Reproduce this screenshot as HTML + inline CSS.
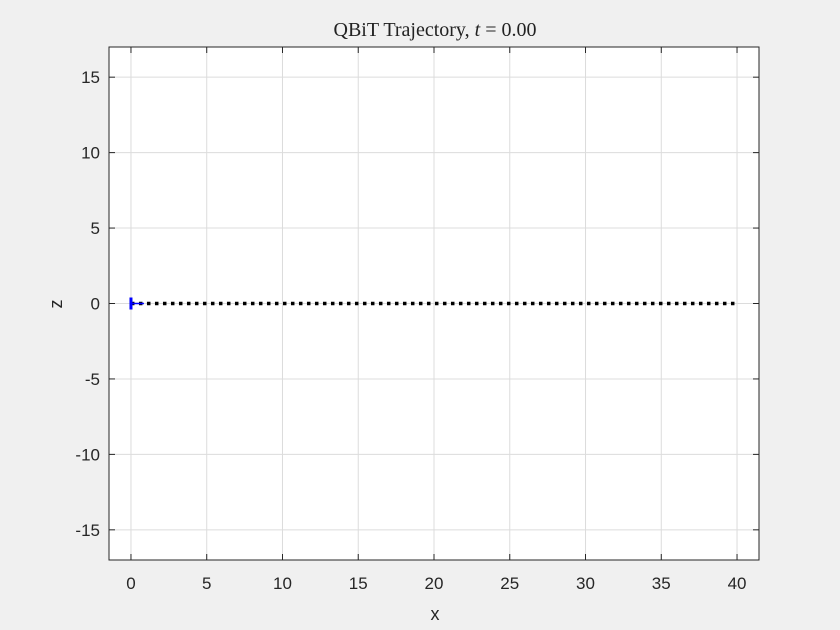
<!DOCTYPE html>
<html><head><meta charset="utf-8"><style>
body{margin:0;background:#f0f0f0;}
svg{display:block;font-family:"Liberation Sans",sans-serif;}
</style></head><body>
<svg id="c" width="840" height="630">
<rect x="0" y="0" width="840" height="630" fill="#f0f0f0"/>
<rect x="109" y="47" width="650" height="513" fill="#ffffff"/>
<g id="grid"></g>
<g id="series"></g>
<g id="axes"></g>
<text x="435" y="36" text-anchor="middle" font-family="Liberation Serif,serif" font-size="20" fill="#222">QBiT Trajectory, <tspan font-style="italic">t</tspan> = 0.00</text>
<text x="435" y="620" text-anchor="middle" font-size="18" fill="#262626">x</text>
<text x="62" y="304" text-anchor="middle" font-size="18" fill="#262626" transform="rotate(-90 62 304)">z</text>
</svg>
<script>
const xTicks=[0,5,10,15,20,25,30,35,40];
const yTicks=[-15,-10,-5,0,5,10,15];
const pathX=[0,40];
const pathZ=[0,0];
const qubitX=[0];
const qubitZ=[0];
const X0=109,X1=759,Y0=47,Y1=560,xmin=-1.45,xmax=41.45,ymin=-17,ymax=17;
const sx=v=>X0+(v-xmin)/(xmax-xmin)*(X1-X0);
const sy=v=>Y1-(v-ymin)/(ymax-ymin)*(Y1-Y0);
const NS='http://www.w3.org/2000/svg';
function mk(t,a,p){const e=document.createElementNS(NS,t);for(const k in a)e.setAttribute(k,a[k]);p.appendChild(e);return e;}
const g=document.getElementById('grid'),s=document.getElementById('series'),ax=document.getElementById('axes');
xTicks.forEach(v=>{
 const l=mk('line',{x1:sx(v),x2:sx(v),y1:Y0,y2:Y1,stroke:'#dcdcdc','stroke-width':1},g);
 
 
 [[Y1,Y1-6],[Y0,Y0+6]].forEach(([a,b])=>mk('line',{x1:sx(v),x2:sx(v),y1:a,y2:b,stroke:'#262626','stroke-width':1},ax));
 const t=mk('text',{x:sx(v),y:589,'text-anchor':'middle','font-size':17,fill:'#262626'},ax);t.textContent=v;
 
 
});
yTicks.forEach(v=>{
 const l=mk('line',{x1:X0,x2:X1,y1:sy(v),y2:sy(v),stroke:'#dcdcdc','stroke-width':1},g);
 
 
 [[X0,X0+6],[X1,X1-6]].forEach(([a,b])=>mk('line',{x1:a,x2:b,y1:sy(v),y2:sy(v),stroke:'#262626','stroke-width':1},ax));
 const t=mk('text',{x:100,y:sy(v)+6,'text-anchor':'end','font-size':17,fill:'#262626'},ax);t.textContent=v;
 
 
});
const fr=mk('rect',{x:X0,y:Y0,width:X1-X0,height:Y1-Y0,fill:'none',stroke:'#262626','stroke-width':1},ax);


const p=mk('polyline',{points:pathX.map((x,i)=>sx(x)+','+sy(pathZ[i])).join(' '),fill:'none',stroke:'#000','stroke-width':3.5,'stroke-dasharray':'3.5 4.5'},s);


qubitX.forEach((x,i)=>{
 const q=mk('g',{},s);
 
 
 mk('line',{x1:sx(x),x2:sx(x),y1:sy(qubitZ[i])-6,y2:sy(qubitZ[i])+6,stroke:'#0000ff','stroke-width':3},q);
 mk('line',{x1:sx(x),x2:sx(x)+13,y1:sy(qubitZ[i]),y2:sy(qubitZ[i]),stroke:'#0000ff','stroke-width':1.5},q);
});
</script>
</body></html>
